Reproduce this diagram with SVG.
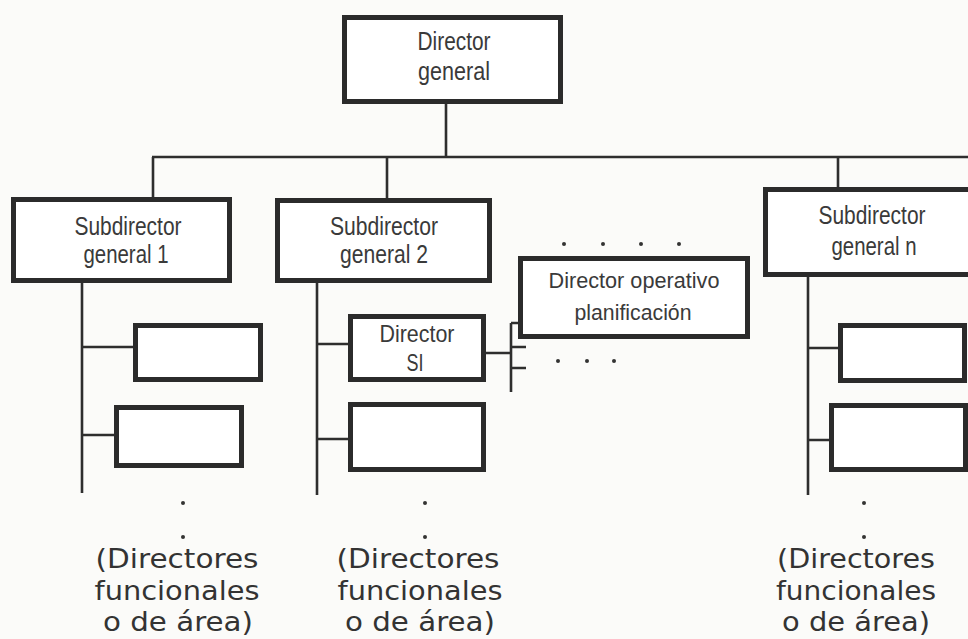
<svg xmlns="http://www.w3.org/2000/svg" width="968" height="639" viewBox="0 0 968 639">
  <style>
    .box { fill: #ffffff; stroke: #2b2b2b; stroke-width: 5; }
    .wire { fill: none; stroke: #2e2e2e; stroke-width: 2.6; }
    .lbl { font-family: "Liberation Sans", Arial, sans-serif; font-size: 25px; fill: #3a3a3a; text-anchor: middle; }
    .lbl2 { font-family: "Liberation Sans", Arial, sans-serif; font-size: 22px; fill: #3a3a3a; text-anchor: middle; }
    .lbl3 { font-family: "Liberation Sans", Arial, sans-serif; font-size: 24px; fill: #3a3a3a; text-anchor: middle; }
    .note { font-family: "DejaVu Sans", Verdana, sans-serif; font-size: 26px; fill: #333333; text-anchor: middle; }
    .dot { fill: #333333; }
  </style>
  <rect width="968" height="639" fill="#fbfbf9"/>

  <!-- connectors -->
  <g id="connectors">
    <path class="wire" d="M446 104 V157 M152 157 H968 M153 157 V197 M387 157 V198 M838 157 V187"/>
    <!-- branch 1 -->
    <path class="wire" d="M82 283 V493 M82 347 H133 M82 435 H114"/>
    <!-- branch 2 -->
    <path class="wire" d="M317 283 V495 M317 344 H348 M317 439 H348"/>
    <!-- branch n -->
    <path class="wire" d="M808 277 V495 M808 348 H838 M808 440 H829"/>
    <!-- Director SI to planning bracket -->
    <path class="wire" d="M486 353 H511 M511 323 V392 M511 323 H518 M511 347 H526 M511 368 H526"/>
  </g>

  <g id="director-general">
    <rect class="box" x="344.5" y="17.5" width="216" height="84"/>
    <text class="lbl" x="454" y="50" textLength="73" lengthAdjust="spacingAndGlyphs">Director</text>
    <text class="lbl" x="454" y="80" textLength="72" lengthAdjust="spacingAndGlyphs">general</text>
  </g>

  <g id="subdirector-1">
    <rect class="box" x="13.5" y="199.5" width="216" height="81"/>
    <text class="lbl" x="128" y="235" textLength="107" lengthAdjust="spacingAndGlyphs">Subdirector</text>
    <text class="lbl" x="126" y="263" textLength="85" lengthAdjust="spacingAndGlyphs">general 1</text>
  </g>

  <g id="subdirector-2">
    <rect class="box" x="277.5" y="200.5" width="212" height="80"/>
    <text class="lbl" x="384" y="235" textLength="108" lengthAdjust="spacingAndGlyphs">Subdirector</text>
    <text class="lbl" x="384" y="263" textLength="88" lengthAdjust="spacingAndGlyphs">general 2</text>
  </g>

  <g id="subdirector-n">
    <rect class="box" x="765.5" y="189.5" width="215" height="85"/>
    <text class="lbl" x="872" y="224" textLength="107" lengthAdjust="spacingAndGlyphs">Subdirector</text>
    <text class="lbl" x="874" y="255" textLength="85" lengthAdjust="spacingAndGlyphs">general n</text>
  </g>

  <g id="director-operativo">
    <rect class="box" x="520.5" y="258.5" width="227" height="78"/>
    <text class="lbl2" x="634" y="288" textLength="171" lengthAdjust="spacingAndGlyphs">Director operativo</text>
    <text class="lbl2" x="633" y="320" textLength="117" lengthAdjust="spacingAndGlyphs">planificación</text>
    <circle class="dot" cx="564" cy="244" r="2"/>
    <circle class="dot" cx="603" cy="244" r="2"/>
    <circle class="dot" cx="641" cy="244" r="2"/>
    <circle class="dot" cx="679" cy="244" r="2"/>
    <circle class="dot" cx="558" cy="361" r="2"/>
    <circle class="dot" cx="587" cy="361" r="2"/>
    <circle class="dot" cx="614" cy="361" r="2"/>
  </g>

  <g id="area-1a"><rect class="box" x="135.5" y="325.5" width="125" height="54"/></g>
  <g id="area-1b"><rect class="box" x="116.5" y="407.5" width="125" height="58"/></g>

  <g id="director-si">
    <rect class="box" x="350.5" y="316.5" width="133" height="63"/>
    <text class="lbl3" x="417" y="342" textLength="75" lengthAdjust="spacingAndGlyphs">Director</text>
    <text class="lbl3" x="415" y="371" textLength="17" lengthAdjust="spacingAndGlyphs">SI</text>
  </g>
  <g id="area-2b"><rect class="box" x="350.5" y="404.5" width="133" height="65"/></g>

  <g id="area-na"><rect class="box" x="840.5" y="325.5" width="124" height="55"/></g>
  <g id="area-nb"><rect class="box" x="831.5" y="405.5" width="134" height="64"/></g>

  <g id="functional-1">
    <circle class="dot" cx="183" cy="503" r="2"/>
    <circle class="dot" cx="183" cy="537" r="2"/>
    <text class="note" x="177" y="568" textLength="163" lengthAdjust="spacingAndGlyphs">(Directores</text>
    <text class="note" x="177" y="600" textLength="165" lengthAdjust="spacingAndGlyphs">funcionales</text>
    <text class="note" x="178" y="631" textLength="150" lengthAdjust="spacingAndGlyphs">o de área)</text>
  </g>

  <g id="functional-2">
    <circle class="dot" cx="425" cy="503" r="2"/>
    <circle class="dot" cx="425" cy="537" r="2"/>
    <text class="note" x="418" y="568" textLength="163" lengthAdjust="spacingAndGlyphs">(Directores</text>
    <text class="note" x="420" y="600" textLength="165" lengthAdjust="spacingAndGlyphs">funcionales</text>
    <text class="note" x="420" y="631" textLength="150" lengthAdjust="spacingAndGlyphs">o de área)</text>
  </g>

  <g id="functional-n">
    <circle class="dot" cx="864" cy="503" r="2"/>
    <circle class="dot" cx="864" cy="537" r="2"/>
    <text class="note" x="856" y="568" textLength="158" lengthAdjust="spacingAndGlyphs">(Directores</text>
    <text class="note" x="856" y="600" textLength="160" lengthAdjust="spacingAndGlyphs">funcionales</text>
    <text class="note" x="856" y="631" textLength="148" lengthAdjust="spacingAndGlyphs">o de área)</text>
  </g>
</svg>
